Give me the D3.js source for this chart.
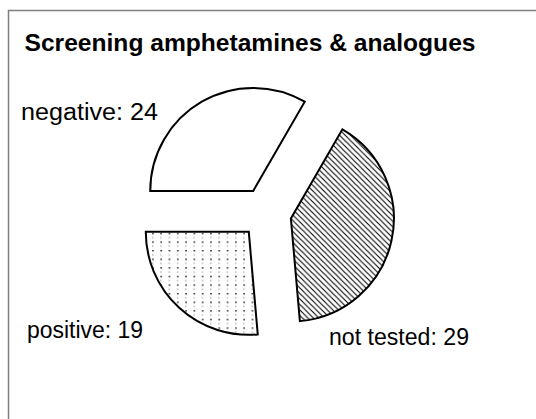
<!DOCTYPE html>
<html>
<head>
<meta charset="utf-8">
<script src="https://cdn.jsdelivr.net/npm/d3@7"></script>
<style>
  html, body { margin: 0; padding: 0; background: #fff; overflow: hidden; }
  svg { display: block; }
  text { font-family: "Liberation Sans", Arial, Helvetica, sans-serif; fill: #000; }
</style>
</head>
<body>
<svg id="chart" width="536" height="419"></svg>
<script>
// ---- data ----
const title = "Screening amphetamines & analogues";
const categories = ["negative", "not tested", "positive"];
const values = [24, 29, 19];

// ---- layout ----
const cx = 266, cy = 213, radius = 103, explode = 25.5;
const fills = ["#ffffff", "url(#hatch)", "url(#dots)"];
// label placement relative to pie centre: [dx, dy, anchor, width]
const labelLayout = [[-108, -93, "end", 137], [63, 132, "start", 140], [-123, 125, "end", 116]];

const svg = d3.select("#chart");

const defs = svg.append("defs");
const hatch = defs.append("pattern").attr("id", "hatch")
  .attr("patternUnits", "userSpaceOnUse").attr("width", 5.5).attr("height", 5.5);
hatch.append("rect").attr("width", 5.5).attr("height", 5.5).attr("fill", "#fff");
hatch.append("path").attr("d", "M0,0L5.5,5.5M-1,4.5L1,6.5M4.5,-1L6.5,1")
  .attr("stroke", "#000").attr("stroke-width", 1.1);

const dots = defs.append("pattern").attr("id", "dots")
  .attr("patternUnits", "userSpaceOnUse").attr("width", 8.3).attr("height", 8.6);
dots.append("rect").attr("width", 8.3).attr("height", 8.6).attr("fill", "#fff");
dots.append("rect").attr("x", 3).attr("y", 1).attr("width", 1.4).attr("height", 1.4).attr("fill", "#000");
dots.append("rect").attr("x", 3).attr("y", 5.3).attr("width", 1).attr("height", 1).attr("fill", "#666");

// frame
svg.append("rect").attr("x", 8.5).attr("y", 10.5).attr("width", 700).attr("height", 700)
  .attr("fill", "none").attr("stroke", "#7f7f7f").attr("stroke-width", 1.5);

// title
svg.append("text").attr("x", 24.5).attr("y", 51)
  .attr("font-size", 24).attr("font-weight", "bold")
  .attr("textLength", 451).attr("lengthAdjust", "spacingAndGlyphs")
  .text(title);

const pie = d3.pie().sort(null).startAngle(-Math.PI / 2).endAngle(3 * Math.PI / 2);
const arcs = pie(values);
const arc = d3.arc().innerRadius(0).outerRadius(radius);

const g = svg.append("g").attr("transform", `translate(${cx},${cy})`);

g.selectAll("path.slice").data(arcs).join("path")
  .attr("class", "slice")
  .attr("transform", d => {
    const a = (d.startAngle + d.endAngle) / 2;
    return `translate(${explode * Math.sin(a)},${-explode * Math.cos(a)})`;
  })
  .attr("d", arc)
  .attr("fill", (d, i) => fills[i])
  .attr("stroke", "#000")
  .attr("stroke-width", 2)
  .attr("stroke-linejoin", "miter");

g.selectAll("text.lbl").data(arcs).join("text")
  .attr("class", "lbl")
  .attr("x", (d, i) => labelLayout[i][0])
  .attr("y", (d, i) => labelLayout[i][1])
  .attr("text-anchor", (d, i) => labelLayout[i][2])
  .attr("font-size", 23)
  .attr("textLength", (d, i) => labelLayout[i][3])
  .attr("lengthAdjust", "spacingAndGlyphs")
  .text((d, i) => `${categories[i]}: ${values[i]}`);
</script>
</body>
</html>
